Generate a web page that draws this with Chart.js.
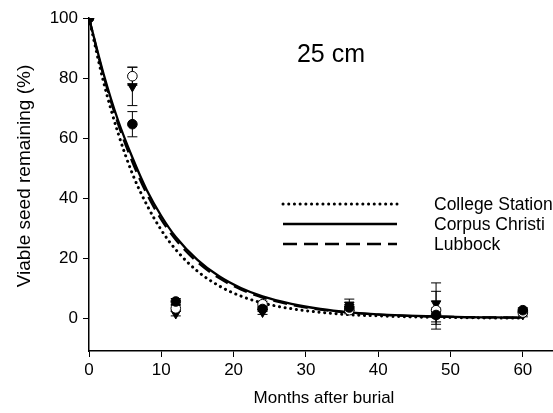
<!DOCTYPE html>
<html>
<head>
<meta charset="utf-8">
<script src="https://cdn.jsdelivr.net/npm/chart.js@4"></script>
<style>
  html, body { margin: 0; padding: 0; background: #fff; overflow: hidden; }
  #wrap { width: 600px; height: 413px; }
</style>
</head>
<body>
<div id="wrap"><canvas id="c" width="600" height="413"></canvas></div>
<script>
// Sampling months for observed seed viability
const months = [0, 6, 12, 24, 36, 48, 60];

// Observed means (%) and their standard errors per site
const collegeStation    = [100, 64.6, 5.5, 3.0, 3.5, 1.0, 2.6];
const collegeStationErr = [0, 4.2, 1.0, 0.8, 1.0, 2.3, 0.8];
const corpusChristi     = [100, 80.6, 3.2, 4.6, 2.6, 2.6, 1.8];
const corpusChristiErr  = [0, 3.0, 1.0, 1.0, 1.2, 6.3, 0.8];
const lubbock           = [100, 77.2, 1.5, 2.0, 4.4, 4.8, 1.2];
const lubbockErr        = [0, 6.4, 0.8, 0.8, 1.9, 6.9, 0.8];

// Fitted decay curves, sampled along the time axis
const curveMonths = [0, 2, 4, 6, 8, 10, 12, 15, 18, 21, 24, 28, 32, 36, 40, 44, 48, 52, 56, 60];
const fitCollegeStation = [100, 78.8, 61.8, 48.1, 37.7, 29.3, 22.8, 15.6, 10.7, 7.3, 5.0, 3.1, 1.9, 1.1, 0.7, 0.4, 0.2, 0.1, 0.0, 0.0];
const fitCorpusChristi  = [100, 81.5, 66.0, 53.5, 42.6, 34.0, 27.0, 19.4, 13.9, 10.0, 7.2, 4.7, 3.0, 1.9, 1.2, 0.8, 0.5, 0.3, 0.2, 0.1];
const fitLubbock        = [100, 80.8, 64.9, 52.0, 41.3, 32.8, 26.1, 18.6, 13.3, 9.5, 6.8, 4.4, 2.8, 1.8, 1.1, 0.7, 0.5, 0.3, 0.2, 0.1];

const xTicks = [0, 10, 20, 30, 40, 50, 60];
const yTicks = [0, 20, 40, 60, 80, 100];

const siteNames = ['College Station', 'Corpus Christi', 'Lubbock'];
const panelLabel = '25 cm';
const yTitle = 'Viable seed remaining (%)';

const FONT = "'Liberation Sans', Arial, sans-serif";
const FS = 17;

const toXY = (xs, ys) => xs.map((x, i) => ({ x: x, y: ys[i] }));

function curve(label, ys, dash, width) {
  return {
    type: 'line', label: label, data: toXY(curveMonths, ys),
    borderColor: '#000', borderWidth: width, borderDash: dash,
    borderCapStyle: dash.length && dash[0] < 3 ? 'round' : 'butt',
    pointRadius: 0, fill: false, cubicInterpolationMode: 'monotone', order: 2
  };
}

function points(label, ys, errs, style, fillColor, rotation, radius, order) {
  return {
    type: 'scatter', label: label, data: toXY(months, ys), errors: errs,
    pointStyle: style, pointRotation: rotation, pointRadius: radius,
    backgroundColor: fillColor, borderColor: '#000', borderWidth: 1,
    order: order
  };
}

// Vertical error bars with caps, drawn beneath the markers
const errorBars = {
  id: 'errorBars',
  beforeDatasetsDraw(chart) {
    const ctx = chart.ctx, x = chart.scales.x, y = chart.scales.y;
    ctx.save();
    ctx.strokeStyle = '#000';
    ctx.lineWidth = 1;
    chart.data.datasets.forEach(ds => {
      if (!ds.errors) return;
      ds.data.forEach((p, i) => {
        const e = ds.errors[i];
        if (!e) return;
        const px = x.getPixelForValue(p.x);
        const top = y.getPixelForValue(p.y + e);
        const bot = y.getPixelForValue(p.y - e);
        ctx.beginPath();
        ctx.moveTo(px, top); ctx.lineTo(px, bot);
        ctx.moveTo(px - 5, top); ctx.lineTo(px + 5, top);
        ctx.moveTo(px - 5, bot); ctx.lineTo(px + 5, bot);
        ctx.stroke();
      });
    });
    ctx.restore();
  }
};

// Panel label, vertical axis title and line-style key
const annotations = {
  id: 'annotations',
  afterDraw(chart) {
    const ctx = chart.ctx;
    ctx.save();
    ctx.fillStyle = '#000';
    ctx.font = '25px ' + FONT;
    ctx.textAlign = 'center';
    ctx.textBaseline = 'middle';
    ctx.fillText(panelLabel, 331, 55);

    ctx.save();
    ctx.translate(25, 176);
    ctx.rotate(-Math.PI / 2);
    ctx.font = '19px ' + FONT;
    ctx.fillText(yTitle, 0, 0);
    ctx.restore();

    const rows = [
      { dash: [0.1, 5.6], cap: 'round', width: 3 },
      { dash: [], cap: 'butt', width: 2.5 },
      { dash: [14, 7], cap: 'butt', width: 2.5 }
    ];
    ctx.font = '17.5px ' + FONT;
    ctx.textAlign = 'left';
    rows.forEach((r, i) => {
      const yy = 204 + i * 20;
      ctx.beginPath();
      ctx.setLineDash(r.dash);
      ctx.lineCap = r.cap;
      ctx.lineWidth = r.width;
      ctx.strokeStyle = '#000';
      ctx.moveTo(283, yy); ctx.lineTo(397, yy);
      ctx.stroke();
      ctx.fillText(siteNames[i], 434, yy + 1);
    });
    ctx.restore();
  }
};

new Chart(document.getElementById('c'), {
  data: {
    datasets: [
      curve(siteNames[0], fitCollegeStation, [0.1, 5.6], 3),
      curve(siteNames[1], fitCorpusChristi, [], 2.3),
      curve(siteNames[2], fitLubbock, [14, 7], 2.3),
      points(siteNames[0], collegeStation, collegeStationErr, 'circle', '#000', 0, 4.8, -1),
      points(siteNames[1], corpusChristi, corpusChristiErr, 'circle', '#fff', 0, 4.8, 0),
      points(siteNames[2], lubbock, lubbockErr, 'triangle', '#000', 180, 5.5, 1)
    ]
  },
  options: {
    responsive: false,
    animation: false,
    layout: { padding: { top: 18, right: 41, bottom: 0, left: 0 } },
    plugins: { legend: { display: false }, tooltip: { enabled: false } },
    scales: {
      x: {
        type: 'linear', min: 0, max: 65,
        afterBuildTicks: s => { s.ticks = xTicks.map(v => ({ value: v })); },
        afterFit: s => { s.height = 62; },
        grid: { display: true, drawOnChartArea: false, tickLength: 6, color: '#000', lineWidth: 1 },
        border: { display: true, color: '#000', width: 1.5 },
        ticks: { color: '#000', font: { family: FONT, size: FS }, padding: 3, maxRotation: 0 },
        title: { display: true, text: 'Months after burial', color: '#000', font: { family: FONT, size: FS }, padding: { top: 4, bottom: 4 } }
      },
      y: {
        type: 'linear', min: -11, max: 100,
        afterBuildTicks: s => { s.ticks = yTicks.map(v => ({ value: v })); },
        afterFit: s => { s.width = 89; },
        grid: { display: true, drawOnChartArea: false, tickLength: 6, color: '#000', lineWidth: 1 },
        border: { display: true, color: '#000', width: 1.5 },
        ticks: { color: '#000', font: { family: FONT, size: FS }, padding: 5 },
        title: { display: false }
      }
    }
  },
  plugins: [errorBars, annotations]
});
</script>
</body>
</html>
